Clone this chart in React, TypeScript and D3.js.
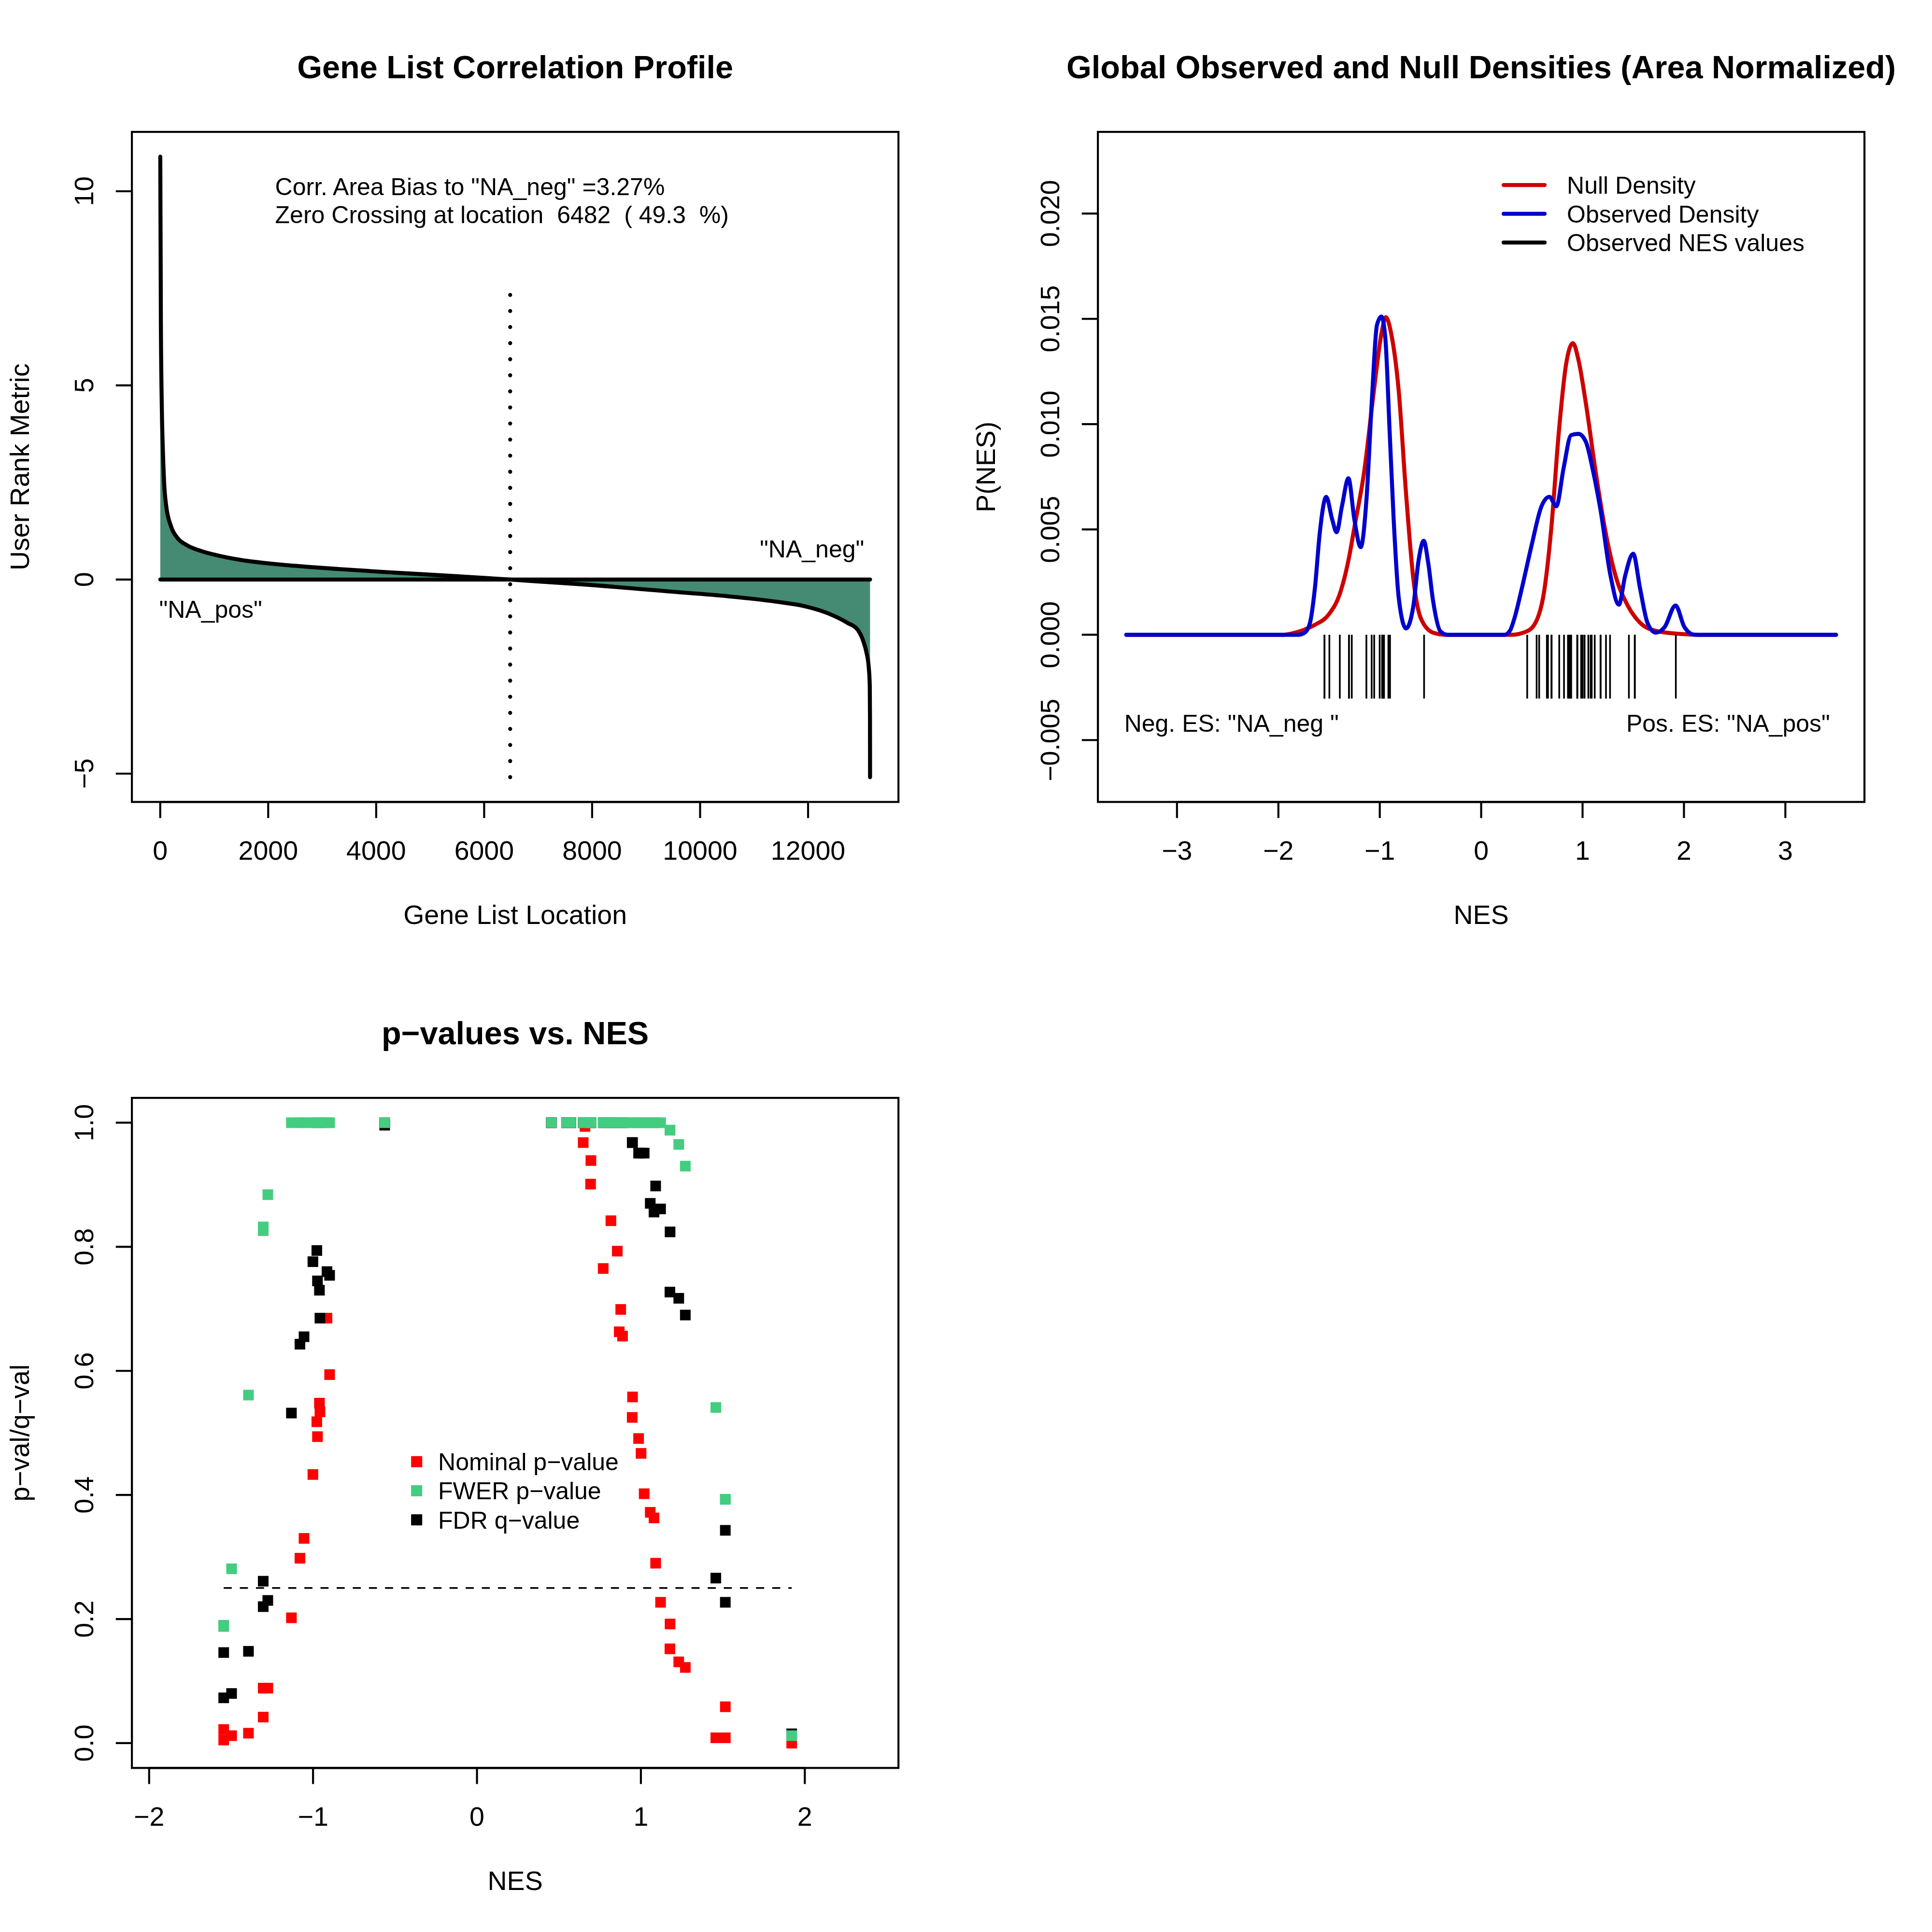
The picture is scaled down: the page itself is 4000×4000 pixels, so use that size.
import React from 'react';
import * as d3 from 'd3';

// ---------------- Panel 1: Gene List Correlation Profile ----------------
const geneListSize = 13148;
const zeroCrossing = 6482;
const geneLocation = [1, 12, 30, 51, 72, 110, 200, 319, 498, 766, 1064, 1512, 2108, 2704, 3300, 4195, 5300, 6482, 6894, 7807, 9631, 10543, 11455, 11911, 12367, 12734, 12917, 13021, 13080, 13125, 13143, 13147, 13148];
const rankMetric = [10.89, 6.65, 4.4, 3.25, 2.5, 1.9, 1.37, 1.07, 0.88, 0.73, 0.62, 0.5, 0.4, 0.33, 0.27, 0.19, 0.1, 0, -0.04, -0.124, -0.33, -0.435, -0.58, -0.68, -0.87, -1.12, -1.29, -1.58, -1.87, -2.28, -2.75, -3.6, -5.09];
const dottedTop = 7.33;
const corrText = 'Corr. Area Bias to "NA_neg" =3.27%';
const zeroText = 'Zero Crossing at location  6482  ( 49.3  %)';
const posLabel = '"NA_pos"';
const negLabel = '"NA_neg"';
const p1XTicks = [0, 2000, 4000, 6000, 8000, 10000, 12000];
const p1YTicks = [-5, 0, 5, 10];

// ---------------- Panel 2: densities ----------------
const nullNES = [-3.5, -1.95, -1.834, -1.74, -1.64, -1.494, -1.397, -1.3, -1.251, -1.154, -1.057, -0.984, -0.94, -0.887, -0.814, -0.741, -0.668, -0.595, -0.474, -0.35, 0.3, 0.449, 0.547, 0.619, 0.692, 0.765, 0.838, 0.905, 0.959, 1.032, 1.129, 1.227, 1.324, 1.445, 1.567, 1.712, 1.955, 2.15, 3.5];
const nullDensity = [0, 0, 0.0001, 0.00025, 0.00047, 0.00102, 0.0019, 0.00375, 0.00508, 0.00774, 0.01163, 0.01429, 0.01508, 0.01429, 0.01163, 0.00671, 0.00262, 0.00078, 0.0001, 0, 0, 0.00016, 0.00068, 0.002, 0.00508, 0.00958, 0.01286, 0.01385, 0.01306, 0.01101, 0.00774, 0.00487, 0.00282, 0.00139, 0.00057, 0.0002, 0.00004, 0, 0];
const obsNES = [-3.5, -1.8, -1.74, -1.688, -1.64, -1.591, -1.528, -1.47, -1.426, -1.373, -1.309, -1.251, -1.188, -1.13, -1.077, -1.028, -0.984, -0.945, -0.902, -0.863, -0.814, -0.741, -0.668, -0.62, -0.566, -0.523, -0.474, -0.401, -0.33, 0.23, 0.285, 0.328, 0.401, 0.498, 0.595, 0.673, 0.741, 0.814, 0.887, 0.959, 1.032, 1.105, 1.178, 1.275, 1.358, 1.421, 1.499, 1.567, 1.64, 1.722, 1.81, 1.917, 2.004, 2.102, 3.5];
const obsDensity = [0, 0, 0.0001, 0.00057, 0.0022, 0.00487, 0.00655, 0.00549, 0.00487, 0.0061, 0.00743, 0.00549, 0.00416, 0.00651, 0.01122, 0.0147, 0.01511, 0.01408, 0.00958, 0.00549, 0.0018, 0.0003, 0.00139, 0.00344, 0.00446, 0.00344, 0.0016, 0.00016, 0, 0, 0.0002, 0.00078, 0.0022, 0.00426, 0.0061, 0.00655, 0.0061, 0.00794, 0.00948, 0.00954, 0.00917, 0.00774, 0.0059, 0.00282, 0.00143, 0.00282, 0.00385, 0.0022, 0.00057, 0.0001, 0.00037, 0.00139, 0.00037, 0, 0];
const densityXLim = [-3.5, 3.5];
const densityYLim = [-0.00676, 0.0227];
const rugDepth = -0.00303;
const p2XTicks = [-3, -2, -1, 0, 1, 2, 3];
const p2YTicks = [-0.005, 0, 0.005, 0.01, 0.015, 0.02];
const densityLegend = ['Null Density', 'Observed Density', 'Observed NES values'];
const densityColors = ['#CD0000', '#0000CD', '#000000'];
const negESText = 'Neg. ES: "NA_neg "';
const posESText = 'Pos. ES: "NA_pos"';

// ---------------- Panel 3: p-values vs NES ----------------
const gsNES = [
  -1.545, -1.545, -1.497, -1.394, -1.304, -1.304, -1.276, -1.132, -1.08, -1.055, -1.001, -0.977, -0.973, -0.961, -0.958, -0.915, -0.899, -0.563,
  0.454, 0.547, 0.572, 0.648, 0.659, 0.693, 0.695, 0.77, 0.817, 0.856, 0.868, 0.877, 0.888, 0.947, 0.949, 0.986, 1.001, 1.02, 1.057, 1.08, 1.09, 1.12, 1.177, 1.178, 1.231, 1.271, 1.457, 1.515, 1.515, 1.92,
];
const nominalP = [
  0.022, 0.005, 0.012, 0.016, 0.0886, 0.042, 0.0886, 0.202, 0.298, 0.33, 0.433, 0.518, 0.494, 0.548, 0.534, 0.685, 0.594, 1.0,
  1.0, 1.0, 1.0, 0.968, 0.994, 0.901, 0.939, 0.765, 0.842, 0.793, 0.663, 0.699, 0.656, 0.525, 0.558, 0.491, 0.467, 0.402, 0.372, 0.363, 0.29, 0.227, 0.152, 0.192, 0.131, 0.122, 0.0086, 0.0586, 0.0086, 0.0,
];
const fwerP = [
  0.188, 0.19, 0.281, 0.561, 0.832, 0.826, 0.884, 1, 1, 1, 1, 1, 1, 1, 1, 1, 1, 1,
  1, 1, 1, 1, 1, 1, 1, 1, 1, 1, 1, 1, 1, 1, 1, 1, 1, 1, 1, 1, 1, 1, 0.988, 0.988, 0.965, 0.93, 0.541, 0.393, 0.393, 0.012,
];
const fdrQ = [
  0.146, 0.073, 0.08, 0.148, 0.261, 0.22, 0.23, 0.532, 0.643, 0.655, 0.776, 0.794, 0.745, 0.73, 0.685, 0.76, 0.754, 0.996,
  1, 1, 1, 1, 1, 1, 1, 1, 1, 1, 1, 1, 1, 0.968, 0.968, 0.951, 0.951, 0.951, 0.87, 0.856, 0.898, 0.861, 0.727, 0.824, 0.717, 0.69, 0.266, 0.343, 0.227, 0.015,
];
const pvalXLim = [-1.932, 2.398];
const pvalYLim = [0, 1];
const fdrThreshold = 0.25;
const p3XTicks = [-2, -1, 0, 1, 2];
const p3YTicks = [0, 0.2, 0.4, 0.6, 0.8, 1.0];
const pvalLegend = ['Nominal p\u2212value', 'FWER p\u2212value', 'FDR q\u2212value'];
const pvalColors = ['#FF0000', '#43CD80', '#000000'];

// ---------------- styling ----------------
const FONT = "'Liberation Sans', Arial, Helvetica, sans-serif";
const LINE = 66.6;
const FS = 55.5;
const FS_TEXT = 50;
const FS_TITLE = 66.6;
const LWD = 4.17;
const TICK = 0.5 * LINE;
const SQ = 22;

const minus = (s: string) => s.replace(/-/g, '\u2212');
const pad = (ext: number[]) => {
  const r = ext[1] - ext[0];
  return [ext[0] - 0.04 * r, ext[1] + 0.04 * r];
};
const base = (center: number, fs: number) => center + 0.36 * fs;

type Box = { left: number; right: number; top: number; bottom: number };
const panelBox = (col: number, row: number): Box => ({
  left: col * 2000 + 4.1 * LINE,
  right: col * 2000 + 2000 - 2.1 * LINE,
  top: row * 2000 + 4.1 * LINE,
  bottom: row * 2000 + 2000 - 5.1 * LINE,
});

function Frame({ box, title, xlab, ylab }: { box: Box; title: string; xlab: string; ylab: string }) {
  const cx = (box.left + box.right) / 2;
  const cy = (box.top + box.bottom) / 2;
  return (
    <g>
      <rect x={box.left} y={box.top} width={box.right - box.left} height={box.bottom - box.top} fill="none" stroke="#000" strokeWidth={LWD} />
      <text x={cx} y={base(box.top - 135.3, FS_TITLE)} textAnchor="middle" fontSize={FS_TITLE} fontWeight="bold">{title}</text>
      <text x={cx} y={base(box.bottom + 3.5 * LINE, FS)} textAnchor="middle" fontSize={FS}>{xlab}</text>
      <text transform={`translate(${base(box.left - 3.5 * LINE, FS)},${cy}) rotate(-90)`} textAnchor="middle" fontSize={FS}>{ylab}</text>
    </g>
  );
}

function XAxis({ scale, ticks, labels, box }: { scale: d3.ScaleLinear<number, number>; ticks: number[]; labels: string[]; box: Box }) {
  return (
    <g>
      <line x1={scale(ticks[0])} x2={scale(ticks[ticks.length - 1])} y1={box.bottom} y2={box.bottom} stroke="#000" strokeWidth={LWD} />
      {ticks.map((t, i) => (
        <g key={i}>
          <line x1={scale(t)} x2={scale(t)} y1={box.bottom} y2={box.bottom + TICK} stroke="#000" strokeWidth={LWD} />
          <text x={scale(t)} y={base(box.bottom + 1.5 * LINE, FS)} textAnchor="middle" fontSize={FS}>{labels[i]}</text>
        </g>
      ))}
    </g>
  );
}

function YAxis({ scale, ticks, labels, box }: { scale: d3.ScaleLinear<number, number>; ticks: number[]; labels: string[]; box: Box }) {
  return (
    <g>
      <line x1={box.left} x2={box.left} y1={scale(ticks[0])} y2={scale(ticks[ticks.length - 1])} stroke="#000" strokeWidth={LWD} />
      {ticks.map((t, i) => (
        <g key={i}>
          <line x1={box.left} x2={box.left - TICK} y1={scale(t)} y2={scale(t)} stroke="#000" strokeWidth={LWD} />
          <text transform={`translate(${base(box.left - 1.5 * LINE, FS)},${scale(t)}) rotate(-90)`} textAnchor="middle" fontSize={FS}>{labels[i]}</text>
        </g>
      ))}
    </g>
  );
}

export default function App() {
  // Panel 1
  const b1 = panelBox(0, 0);
  const x1 = d3.scaleLinear().domain(pad([1, geneListSize])).range([b1.left, b1.right]);
  const y1 = d3.scaleLinear().domain(pad(d3.extent(rankMetric) as number[])).range([b1.bottom, b1.top]);
  const area1 = d3.area<number>().x((_, i) => x1(geneLocation[i])).y0(y1(0)).y1((d) => y1(d)).curve(d3.curveMonotoneX)(rankMetric) || '';
  const line1 = d3.line<number>().x((_, i) => x1(geneLocation[i])).y((d) => y1(d)).curve(d3.curveMonotoneX)(rankMetric) || '';
  const minMetric = d3.min(rankMetric) as number;
  const dotLen = y1(minMetric) - y1(dottedTop);
  const dotN = Math.round(dotLen / (8 * LWD));
  const dotPeriod = dotLen / dotN;

  // Panel 2
  const b2 = panelBox(1, 0);
  const x2 = d3.scaleLinear().domain(pad(densityXLim)).range([b2.left, b2.right]);
  const y2 = d3.scaleLinear().domain(pad(densityYLim)).range([b2.bottom, b2.top]);
  const nullPath = d3.line<number>().x((_, i) => x2(nullNES[i])).y((d) => y2(d)).curve(d3.curveMonotoneX)(nullDensity) || '';
  const obsPath = d3.line<number>().x((_, i) => x2(obsNES[i])).y((d) => y2(d)).curve(d3.curveMonotoneX)(obsDensity) || '';

  // Panel 3
  const b3 = panelBox(0, 1);
  const x3 = d3.scaleLinear().domain(pad(pvalXLim)).range([b3.left, b3.right]);
  const y3 = d3.scaleLinear().domain(pad(pvalYLim)).range([b3.bottom, b3.top]);
  const nesExt = d3.extent(gsNES) as number[];
  const series = [
    { vals: nominalP, color: pvalColors[0] },
    { vals: fdrQ, color: pvalColors[2] },
    { vals: fwerP, color: pvalColors[1] },
  ];

  return (
    <svg width={4000} height={4000} viewBox="0 0 4000 4000" style={{ position: 'absolute', left: 0, top: 0, background: '#fff' }} fontFamily={FONT}>
      <rect x={0} y={0} width={4000} height={4000} fill="#fff" />

      {/* ---------- Panel 1 ---------- */}
      <path d={area1} fill="#458B74" />
      <path d={line1} fill="none" stroke="#000" strokeWidth={2 * LWD} strokeLinejoin="round" strokeLinecap="round" />
      <line x1={x1(1)} x2={x1(geneListSize)} y1={y1(0)} y2={y1(0)} stroke="#000" strokeWidth={2 * LWD} strokeLinecap="round" />
      <line x1={x1(zeroCrossing)} x2={x1(zeroCrossing)} y1={y1(dottedTop)} y2={y1(minMetric) + 1} stroke="#000" strokeWidth={2 * LWD} strokeLinecap="round" strokeDasharray={`0.01 ${dotPeriod - 0.01}`} />
      <text x={x1(2128)} y={base(y1(10.12), FS_TEXT)} fontSize={FS_TEXT} style={{ whiteSpace: 'pre' }}>{corrText}</text>
      <text x={x1(2128)} y={base(y1(9.4), FS_TEXT)} fontSize={FS_TEXT} style={{ whiteSpace: 'pre' }}>{zeroText}</text>
      <text x={x1(13040)} y={base(y1(0.79), FS_TEXT)} fontSize={FS_TEXT} textAnchor="end">{negLabel}</text>
      <text x={x1(-20)} y={base(y1(-0.76), FS_TEXT)} fontSize={FS_TEXT}>{posLabel}</text>
      <XAxis scale={x1} ticks={p1XTicks} labels={p1XTicks.map((t) => minus(String(t)))} box={b1} />
      <YAxis scale={y1} ticks={p1YTicks} labels={p1YTicks.map((t) => minus(String(t)))} box={b1} />
      <Frame box={b1} title="Gene List Correlation Profile" xlab="Gene List Location" ylab="User Rank Metric" />

      {/* ---------- Panel 2 ---------- */}
      <path d={nullPath} fill="none" stroke={densityColors[0]} strokeWidth={2 * LWD} strokeLinejoin="round" strokeLinecap="round" />
      <path d={obsPath} fill="none" stroke={densityColors[1]} strokeWidth={2 * LWD} strokeLinejoin="round" strokeLinecap="round" />
      {gsNES.map((v, i) => (
        <line key={i} x1={x2(v)} x2={x2(v)} y1={y2(0)} y2={y2(rugDepth)} stroke="#000" strokeWidth={0.85 * LWD} />
      ))}
      {densityLegend.map((lab, i) => (
        <g key={i}>
          <line x1={b2.left + 840} x2={b2.left + 925} y1={b2.top + 110 + i * 59.5} y2={b2.top + 110 + i * 59.5} stroke={densityColors[i]} strokeWidth={2 * LWD} strokeLinecap="round" />
          <text x={b2.left + 971} y={base(b2.top + 110 + i * 59.5, FS_TEXT)} fontSize={FS_TEXT}>{lab}</text>
        </g>
      ))}
      <text x={x2(-3.52)} y={base(y2(-0.0042), FS_TEXT)} fontSize={FS_TEXT}>{negESText}</text>
      <text x={x2(3.44)} y={base(y2(-0.0042), FS_TEXT)} fontSize={FS_TEXT} textAnchor="end">{posESText}</text>
      <XAxis scale={x2} ticks={p2XTicks} labels={p2XTicks.map((t) => minus(String(t)))} box={b2} />
      <YAxis scale={y2} ticks={p2YTicks} labels={p2YTicks.map((t) => minus(t.toFixed(3)))} box={b2} />
      <Frame box={b2} title="Global Observed and Null Densities (Area Normalized)" xlab="NES" ylab="P(NES)" />

      {/* ---------- Panel 3 ---------- */}
      {series.map((s, si) => (
        <g key={si}>
          {s.vals.map((v, i) => (
            <rect key={i} x={x3(gsNES[i]) - SQ / 2} y={y3(v) - SQ / 2} width={SQ} height={SQ} fill={s.color} />
          ))}
        </g>
      ))}
      <line x1={x3(nesExt[0])} x2={x3(nesExt[1])} y1={y3(fdrThreshold)} y2={y3(fdrThreshold)} stroke="#000" strokeWidth={0.85 * LWD} strokeDasharray="16.7 16.7" />
      {pvalLegend.map((lab, i) => (
        <g key={i}>
          <rect x={b3.left + 589.6 - 11.5} y={b3.top + 753.2 + i * 60.2 - 11.5} width={23} height={23} fill={pvalColors[i]} />
          <text x={b3.left + 634} y={base(b3.top + 753.2 + i * 60.2, FS_TEXT)} fontSize={FS_TEXT}>{lab}</text>
        </g>
      ))}
      <XAxis scale={x3} ticks={p3XTicks} labels={p3XTicks.map((t) => minus(String(t)))} box={b3} />
      <YAxis scale={y3} ticks={p3YTicks} labels={p3YTicks.map((t) => t.toFixed(1))} box={b3} />
      <Frame box={b3} title={'p\u2212values vs. NES'} xlab="NES" ylab={'p\u2212val/q\u2212val'} />
    </svg>
  );
}
